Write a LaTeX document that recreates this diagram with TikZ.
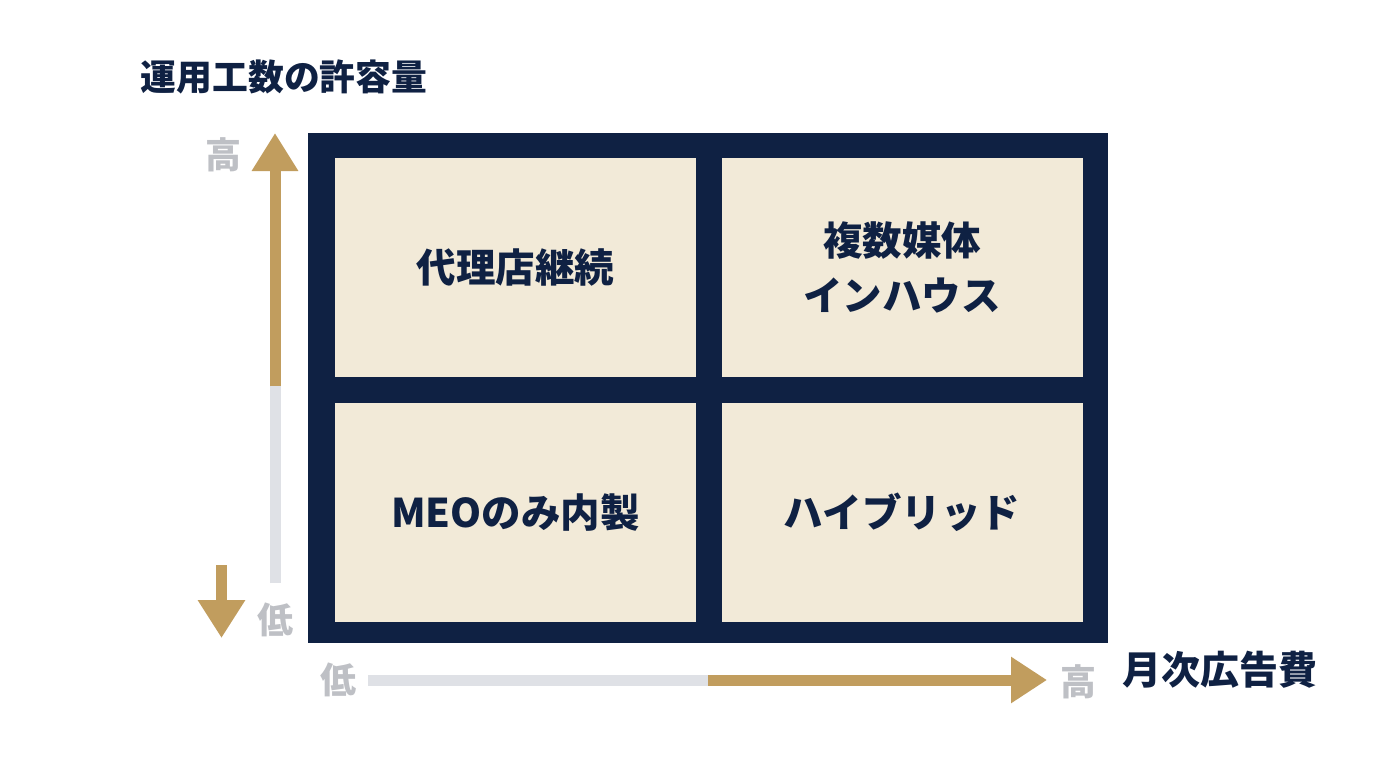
\documentclass[tikz,border=0pt]{standalone}
\usepackage{fontspec}
\setmainfont{Noto Sans CJK JP}
\usetikzlibrary{arrows.meta}
\definecolor{navy}{HTML}{0F2143}
\definecolor{cream}{HTML}{F2EAD8}
\definecolor{gold}{HTML}{C19D5E}
\definecolor{track}{HTML}{DFE1E6}
\definecolor{lowgray}{HTML}{BEC0C5}
\tikzset{
	cell/.style={fill=cream, minimum width=361pt, minimum height=219pt, inner sep=0pt, align=center, text=navy, font=\fontsize{39.5}{55}\selectfont\bfseries},
	axistitle/.style={text=navy, inner sep=0pt, font=\fontsize{39}{41}\selectfont\bfseries},
	level/.style={text=lowgray, inner sep=0pt, font=\fontsize{36}{38}\selectfont\bfseries},
	trackline/.style={draw=track, line width=11pt},
	goldline/.style={draw=gold, line width=11pt},
	goldhead/.style={-{Triangle[length=38pt, width=44pt]}}
}
\begin{document}
\begin{tikzpicture}[x=1pt, y=-1pt]
		\fill[white] (0,0) rectangle (1376,768);
		\useasboundingbox (0,0) rectangle (1376,768);
		
		% Title
		\node[axistitle, font=\fontsize{35.8}{37}\selectfont\bfseries] (title) at (284,77) {運用工数の許容量};
		
		% Matrix
		\node[fill=navy, minimum width=800pt, minimum height=510pt, inner sep=0pt] (frame) at (708,388) {};
		\node[cell] (agency) at (515.5,267.5) {代理店継続};
		\node[cell] (inhouse) at (902,267.5) {複数媒体\\インハウス};
		\node[cell] (meo) at (515.5,512.5) {MEOのみ内製};
		\node[cell] (hybrid) at (902,512.5) {ハイブリッド};
		
		% Vertical axis
		\coordinate (vLow) at (275,583);
		\coordinate (vMid) at (275,386);
		\coordinate (vHigh) at (275,133);
		\draw[trackline] (vLow) -- (vMid);
		\draw[goldline, goldhead] (vMid) -- (vHigh);
		\node[level] (vHighLabel) at (223,155) {高};
		\node[level] (vLowLabel) at (275,620) {低};
		\coordinate (dTop) at (221.5,565);
		\coordinate (dTip) at (221.5,638);
		\draw[goldline, -{Triangle[length=38pt, width=45pt]}] (dTop) -- (dTip);
		
		% Horizontal axis
		\coordinate (hLow) at (368,680);
		\coordinate (hMid) at (708,680);
		\coordinate (hHigh) at (1047,680);
		\draw[trackline] (hLow) -- (hMid);
		\draw[goldline, -{Triangle[length=36pt, width=44pt]}] (hMid) -- (hHigh);
		\node[level] (hLowLabel) at (338,680) {低};
		\node[level] (hHighLabel) at (1078,682) {高};
		\node[axistitle] (xtitle) at (1220,670) {月次広告費};
		
	\end{tikzpicture}
\end{document}
